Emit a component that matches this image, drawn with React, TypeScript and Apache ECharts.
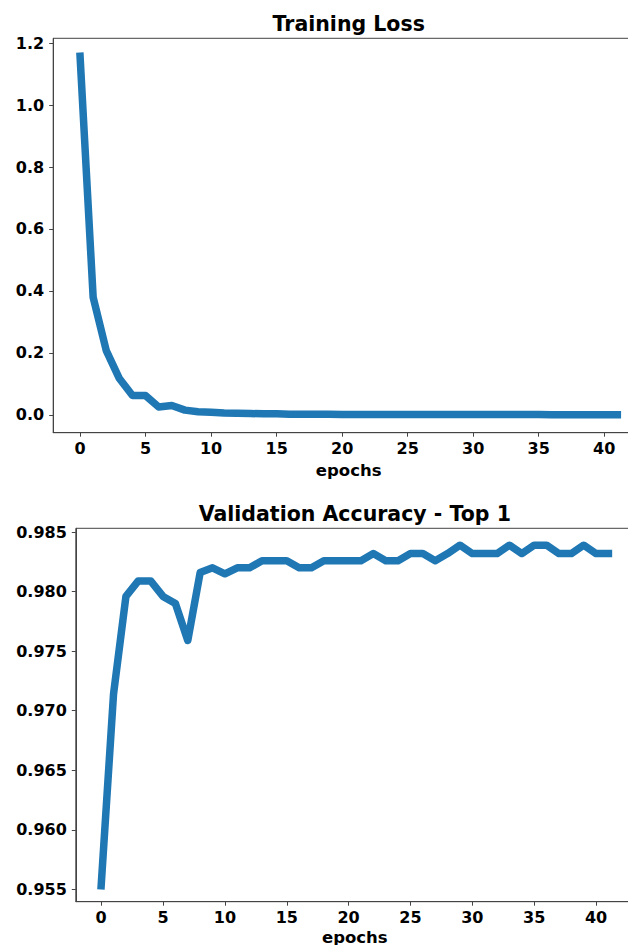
import React, { useEffect, useRef } from "react";
import * as echarts from "echarts";

const lossValues = [
  1.158, 0.379, 0.207, 0.117, 0.062, 0.062, 0.025, 0.03, 0.015, 0.01,
  0.008, 0.006, 0.005, 0.004, 0.003, 0.003, 0.002, 0.002, 0.002, 0.0015,
  0.0012, 0.001, 0.001, 0.001, 0.0009, 0.0008, 0.0008, 0.0007, 0.0007, 0.0006,
  0.0006, 0.0006, 0.0005, 0.0005, 0.0005, 0.0005, 0.0004, 0.0004, 0.0004, 0.0004,
  0.0004, 0.0003,
];

const accValues = [
  0.9553, 0.9714, 0.9796, 0.9809, 0.9809, 0.9796, 0.979, 0.9759, 0.9816, 0.982,
  0.9815, 0.982, 0.982, 0.9826, 0.9826, 0.9826, 0.982, 0.982, 0.9826, 0.9826,
  0.9826, 0.9826, 0.9832, 0.9826, 0.9826, 0.9832, 0.9832, 0.9826, 0.9832, 0.9839,
  0.9832, 0.9832, 0.9832, 0.9839, 0.9832, 0.9839, 0.9839, 0.9832, 0.9832, 0.9839,
  0.9832, 0.9832,
];

const xTicks = [0, 5, 10, 15, 20, 25, 30, 35, 40];
const lossTicks = [0, 0.2, 0.4, 0.6, 0.8, 1.0, 1.2];
const accTicks = [0.955, 0.96, 0.965, 0.97, 0.975, 0.98, 0.985];

const titles = ["Training Loss", "Validation Accuracy - Top 1"];
const xName = "epochs";

const FONT = "DejaVu Sans";
const LINE_COLOR = "#1f77b4";
const AXIS_COLOR = "#444";

export default function App() {
  const ref = useRef<HTMLDivElement>(null);

  useEffect(() => {
    document.body.style.margin = "0";
    const chart = echarts.init(ref.current!, null, { renderer: "svg" });

    const labelStyle = {
      fontSize: 16,
      fontWeight: "bold" as const,
      color: "#000",
      fontFamily: FONT,
    };

    const makeX = (gridIndex: number) => ({
      type: "value" as const,
      gridIndex,
      min: -2.05,
      max: 43.05,
      splitLine: { show: false },
      axisLine: { show: true, onZero: false, lineStyle: { color: AXIS_COLOR, width: 1 } },
      axisTick: { show: true, length: 4, customValues: xTicks, lineStyle: { color: AXIS_COLOR } },
      axisLabel: { ...labelStyle, margin: 8, customValues: xTicks, formatter: (v: number) => String(v) },
    });

    const makeY = (gridIndex: number, min: number, max: number, ticks: number[], digits: number) => ({
      type: "value" as const,
      gridIndex,
      min,
      max,
      splitLine: { show: false },
      axisLine: { show: true, onZero: false, lineStyle: { color: AXIS_COLOR, width: 1 } },
      axisTick: { show: true, length: 4, customValues: ticks, lineStyle: { color: AXIS_COLOR } },
      axisLabel: { ...labelStyle, margin: 9, customValues: ticks, formatter: (v: number) => v.toFixed(digits) },
    });

    const g1 = { left: 53.2, top: 38.3, width: 591, height: 394.4 };
    const g2 = { left: 75.8, top: 528.3, width: 558, height: 373.4 };

    const textStyle = (text: string, size: number) => ({
      text,
      fontSize: size,
      fontWeight: "bold",
      fontFamily: FONT,
      fill: "#000",
      align: "center",
      verticalAlign: "middle",
    });

    chart.setOption({
      animation: false,
      backgroundColor: "#fff",
      grid: [
        { ...g1, show: true, borderColor: AXIS_COLOR, borderWidth: 1, containLabel: false },
        { ...g2, show: true, borderColor: AXIS_COLOR, borderWidth: 1, containLabel: false },
      ],
      xAxis: [makeX(0), makeX(1)],
      yAxis: [
        makeY(0, -0.0579, 1.2159, lossTicks, 1),
        makeY(1, 0.95396, 0.98532, accTicks, 3),
      ],
      series: [
        {
          type: "line",
          xAxisIndex: 0,
          yAxisIndex: 0,
          data: lossValues.map((v, i) => [i, v]),
          showSymbol: false,
          symbol: "none",
          lineStyle: { color: LINE_COLOR, width: 7.5, cap: "square", join: "round" },
        },
        {
          type: "line",
          xAxisIndex: 1,
          yAxisIndex: 1,
          data: accValues.map((v, i) => [i, v]),
          showSymbol: false,
          symbol: "none",
          lineStyle: { color: LINE_COLOR, width: 7.5, cap: "square", join: "round" },
        },
      ],
      graphic: [
        { type: "text", x: g1.left + g1.width / 2, y: 23.5, style: textStyle(titles[0], 20.5) },
        { type: "text", x: g2.left + g2.width / 2, y: 513.5, style: textStyle(titles[1], 20.5) },
        { type: "text", x: g1.left + g1.width / 2, y: 470, style: textStyle(xName, 16.5) },
        { type: "text", x: g2.left + g2.width / 2, y: 937, style: textStyle(xName, 16.5) },
      ],
    });

    return () => chart.dispose();
  }, []);

  return <div ref={ref} style={{ position: "fixed", left: 0, top: 0, width: 680, height: 945 }} />;
}
